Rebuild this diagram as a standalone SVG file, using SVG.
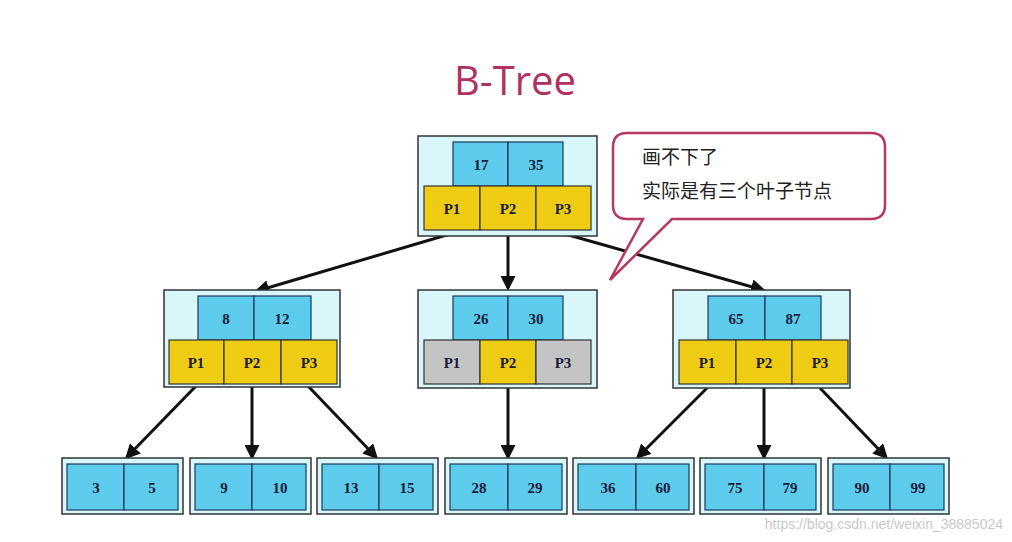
<svg xmlns="http://www.w3.org/2000/svg" width="1012" height="542" viewBox="0 0 1012 542">
<defs>
<style>
.o{fill:#d9f6fb;stroke:#333;stroke-width:1.5}
.k{fill:#5ccbec;stroke:#1b3a5a;stroke-width:1.2}
.p{fill:#efcc14;stroke:#333;stroke-width:1.2}
.g{fill:#c4c4c4;stroke:#333;stroke-width:1.2}
.t{font-family:"Liberation Serif",serif;font-weight:bold;font-size:15px;fill:#1a1a3a;text-anchor:middle}
.c{stroke:#111;stroke-width:3;fill:none;marker-end:url(#a)}
.cj{font-family:"Noto Sans CJK SC",sans-serif;font-size:19px;fill:#222}
</style>
<marker id="a" markerWidth="5" markerHeight="5" refX="4" refY="2.5" orient="auto"><path d="M0,0L5,2.5L0,5z" fill="#111"/></marker>
</defs>
<rect width="1012" height="542" fill="#fff"/>
<text x="515" y="95" font-family="Open Sans,sans-serif" font-size="40" fill="#b03060" text-anchor="middle">B-Tree</text>
<g id="connectors">
<line class="c" x1="450" y1="234" x2="257" y2="291"/>
<line class="c" x1="508" y1="234" x2="508" y2="288"/>
<line class="c" x1="565" y1="234" x2="763" y2="290"/>
<line class="c" x1="196" y1="386" x2="127" y2="457"/>
<line class="c" x1="252" y1="386" x2="252" y2="457"/>
<line class="c" x1="308" y1="386" x2="376" y2="457"/>
<line class="c" x1="508" y1="388" x2="508" y2="457"/>
<line class="c" x1="707" y1="388" x2="638" y2="457"/>
<line class="c" x1="764" y1="388" x2="764" y2="457"/>
<line class="c" x1="820" y1="388" x2="886" y2="457"/>
</g>
<g id="root">
<rect class="o" x="418" y="136" width="179" height="100"/>
<rect class="k" x="453" y="142" width="55" height="44"/><rect class="k" x="508" y="142" width="55" height="44"/>
<rect class="p" x="424" y="186" width="56" height="44"/><rect class="p" x="480" y="186" width="56" height="44"/><rect class="p" x="536" y="186" width="55" height="44"/>
<text class="t" x="481" y="170">17</text><text class="t" x="536" y="170">35</text>
<text class="t" x="452" y="214">P1</text><text class="t" x="508" y="214">P2</text><text class="t" x="563" y="214">P3</text>
</g>
<g id="n8_12">
<rect class="o" x="164" y="290" width="176" height="97"/>
<rect class="k" x="198" y="296" width="56" height="44"/><rect class="k" x="254" y="296" width="57" height="44"/>
<rect class="p" x="169" y="340" width="55" height="44"/><rect class="p" x="224" y="340" width="57" height="44"/><rect class="p" x="281" y="340" width="56" height="44"/>
<text class="t" x="226" y="324">8</text><text class="t" x="282" y="324">12</text>
<text class="t" x="196" y="368">P1</text><text class="t" x="252" y="368">P2</text><text class="t" x="309" y="368">P3</text>
</g>
<g id="n26_30">
<rect class="o" x="418" y="290" width="179" height="98"/>
<rect class="k" x="453" y="296" width="55" height="44"/><rect class="k" x="508" y="296" width="55" height="44"/>
<rect class="g" x="424" y="340" width="56" height="44"/><rect class="p" x="480" y="340" width="56" height="44"/><rect class="g" x="536" y="340" width="55" height="44"/>
<text class="t" x="481" y="324">26</text><text class="t" x="536" y="324">30</text>
<text class="t" x="452" y="368">P1</text><text class="t" x="508" y="368">P2</text><text class="t" x="563" y="368">P3</text>
</g>
<g id="n65_87">
<rect class="o" x="673" y="290" width="177" height="98"/>
<rect class="k" x="708" y="296" width="57" height="44"/><rect class="k" x="765" y="296" width="56" height="44"/>
<rect class="p" x="679" y="340" width="57" height="44"/><rect class="p" x="736" y="340" width="56" height="44"/><rect class="p" x="792" y="340" width="56" height="44"/>
<text class="t" x="736" y="324">65</text><text class="t" x="793" y="324">87</text>
<text class="t" x="707" y="368">P1</text><text class="t" x="764" y="368">P2</text><text class="t" x="820" y="368">P3</text>
</g>
<g id="leaf1"><rect class="o" x="62" y="458" width="121" height="56"/><rect class="k" x="67" y="464" width="57" height="46"/><rect class="k" x="124" y="464" width="54" height="46"/><text class="t" x="96" y="493">3</text><text class="t" x="152" y="493">5</text></g>
<g id="leaf2"><rect class="o" x="190" y="458" width="121" height="56"/><rect class="k" x="195" y="464" width="57" height="46"/><rect class="k" x="252" y="464" width="54" height="46"/><text class="t" x="224" y="493">9</text><text class="t" x="280" y="493">10</text></g>
<g id="leaf3"><rect class="o" x="317" y="458" width="121" height="56"/><rect class="k" x="322" y="464" width="57" height="46"/><rect class="k" x="379" y="464" width="54" height="46"/><text class="t" x="351" y="493">13</text><text class="t" x="407" y="493">15</text></g>
<g id="leaf4"><rect class="o" x="445" y="458" width="122" height="56"/><rect class="k" x="450" y="464" width="58" height="46"/><rect class="k" x="508" y="464" width="54" height="46"/><text class="t" x="479" y="493">28</text><text class="t" x="535" y="493">29</text></g>
<g id="leaf5"><rect class="o" x="573" y="458" width="121" height="56"/><rect class="k" x="578" y="464" width="58" height="46"/><rect class="k" x="636" y="464" width="53" height="46"/><text class="t" x="608" y="493">36</text><text class="t" x="663" y="493">60</text></g>
<g id="leaf6"><rect class="o" x="700" y="458" width="121" height="56"/><rect class="k" x="705" y="464" width="59" height="46"/><rect class="k" x="764" y="464" width="52" height="46"/><text class="t" x="735" y="493">75</text><text class="t" x="790" y="493">79</text></g>
<g id="leaf7"><rect class="o" x="828" y="458" width="121" height="56"/><rect class="k" x="833" y="464" width="57" height="46"/><rect class="k" x="890" y="464" width="54" height="46"/><text class="t" x="862" y="493">90</text><text class="t" x="918" y="493">99</text></g>
<g id="callout">
<path d="M627,133 H871 Q885,133 885,147 V205 Q885,219 871,219 H672 L610,280 L643,219 H627 Q613,219 613,205 V147 Q613,133 627,133 Z" fill="#fff" stroke="#b5385f" stroke-width="2.5"/>
<text class="cj" x="642" y="164">画不下了</text>
<text class="cj" x="642" y="198">实际是有三个叶子节点</text>
</g>
<text x="1003" y="529" font-family="Liberation Sans,sans-serif" font-size="14" fill="#c8c8c8" text-anchor="end">https://blog.csdn.net/weixin_38885024</text>
</svg>
